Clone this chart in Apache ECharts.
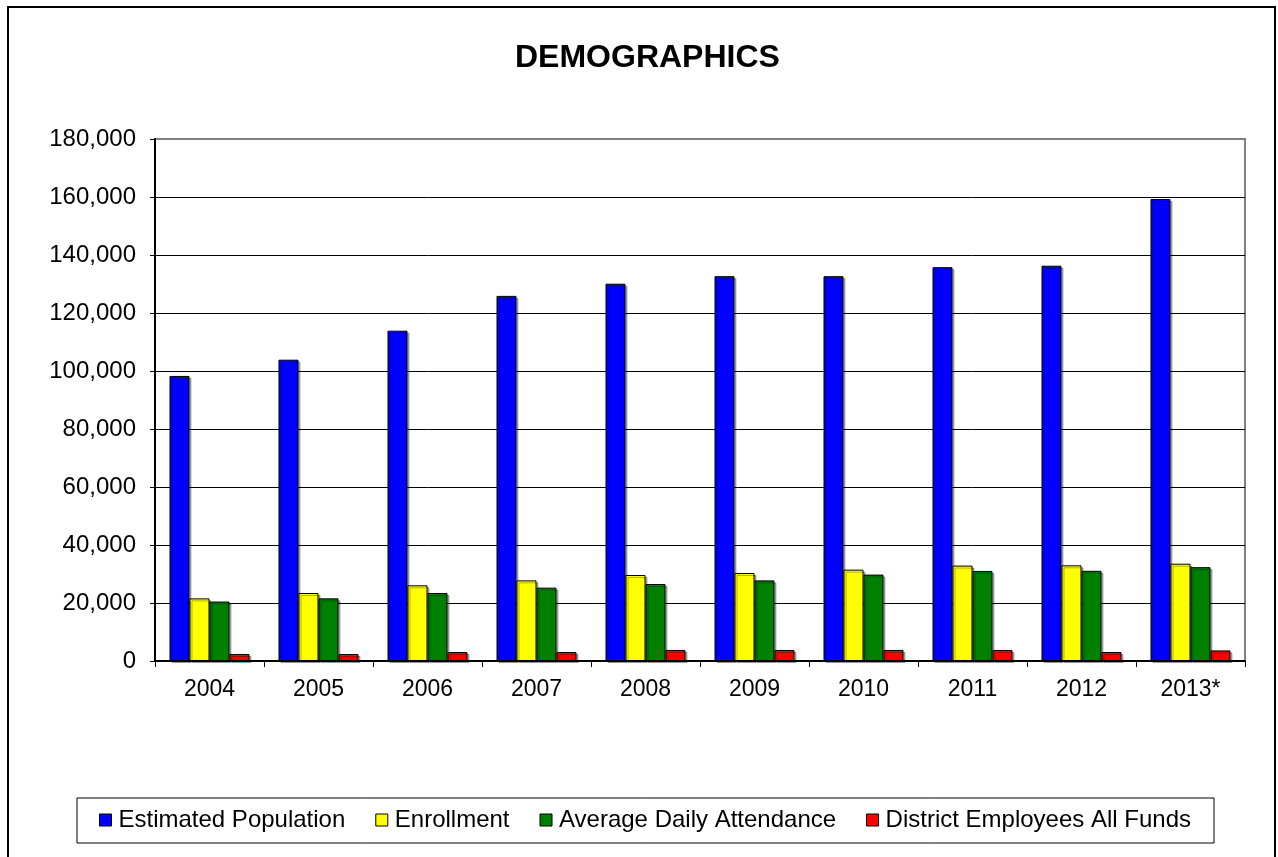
<!DOCTYPE html>
<html><head><meta charset="utf-8">
<script src="https://cdn.jsdelivr.net/npm/echarts@6/dist/echarts.min.js"></script>
<style>html,body{margin:0;padding:0;background:#fff}</style>
</head><body>
<div id="c" style="width:1278px;height:857px"></div>
<script>
var years = ['2004','2005','2006','2007','2008','2009','2010','2011','2012','2013*'];
var estimatedPopulation = [98300, 103900, 113900, 125900, 130100, 132700, 132700, 135800, 136300, 159300];
var enrollment = [21600, 23450, 26100, 27800, 29650, 30350, 31500, 32900, 33000, 33550];
var averageDailyAttendance = [20500, 21600, 23450, 25300, 26550, 27800, 29800, 31050, 31100, 32350];
var districtEmployees = [2400, 2400, 3100, 3100, 3800, 3800, 3800, 3800, 3100, 3650];
var seriesNames = ['Estimated Population', 'Enrollment', 'Average Daily Attendance', 'District Employees All Funds'];
var seriesColors = ['#0000FF', '#FFFF00', '#008000', '#FF0000'];
var seriesData = [estimatedPopulation, enrollment, averageDailyAttendance, districtEmployees];

var FONT = "'Liberation Sans', Arial, sans-serif";
var chart = echarts.init(document.getElementById('c'));

var series = seriesNames.map(function (n, i) {
  return {
    name: n,
    type: 'bar',
    data: seriesData[i],
    barWidth: 20,
    barGap: '0%',
    itemStyle: {
      color: seriesColors[i],
      borderColor: '#000',
      borderWidth: 1,
      shadowColor: 'rgba(0,0,0,0.3)',
      shadowOffsetX: 2,
      shadowOffsetY: 2,
      shadowBlur: 0
    },
    emphasis: { disabled: true }
  };
});

chart.setOption({
  animation: false,
  backgroundColor: '#fff',
  textStyle: { fontFamily: FONT },
  graphic: [{
    type: 'rect', z: -10, silent: true,
    shape: { x: 8, y: 7, width: 1267, height: 1000 },
    style: { fill: 'none', stroke: '#000', lineWidth: 2 }
  }],
  title: {
    text: 'DEMOGRAPHICS',
    left: 515, top: 42, padding: 0,
    textStyle: { fontFamily: FONT, fontSize: 32, fontWeight: 'bold', color: '#000' }
  },
  legend: {
    data: seriesNames,
    right: 64, top: 798,
    padding: [10, 23, 11, 22],
    borderColor: '#000', borderWidth: 1,
    itemWidth: 12, itemHeight: 12, itemGap: 30,
    icon: 'rect',
    itemStyle: { borderColor: '#000', borderWidth: 1 },
    textStyle: { fontFamily: FONT, fontSize: 24, color: '#000', padding: [0, 0, 0, 2] }
  },
  grid: {
    left: 155, right: 33, top: 139, bottom: 196,
    show: true, borderColor: '#808080', borderWidth: 2, backgroundColor: 'transparent'
  },
  xAxis: {
    type: 'category',
    data: years,
    boundaryGap: true,
    axisLine: { show: true, lineStyle: { color: '#000', width: 2 } },
    axisTick: { show: true, length: 6, lineStyle: { color: '#000', width: 1 } },
    axisLabel: { margin: 17, fontSize: 23, color: '#000', fontFamily: FONT },
    splitLine: { show: false }
  },
  yAxis: {
    type: 'value',
    min: 0, max: 180000, interval: 20000,
    axisLine: { show: true, lineStyle: { color: '#000', width: 2 } },
    axisTick: { show: true, length: 5, lineStyle: { color: '#000', width: 1 } },
    axisLabel: {
      margin: 19, fontSize: 24, color: '#000', fontFamily: FONT,
      formatter: function (v) { return v.toLocaleString('en-US'); }
    },
    splitLine: { show: true, showMaxLine: false, lineStyle: { color: '#000', width: 1 } }
  },
  series: series
});
</script>
</body></html>
